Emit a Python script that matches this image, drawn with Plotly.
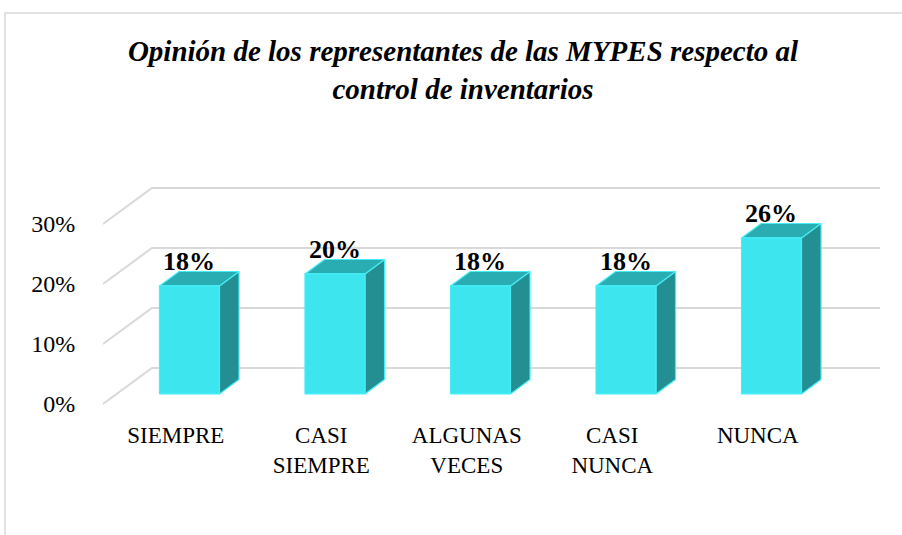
import plotly.graph_objects as go

# ---- data ----
categories = ["SIEMPRE", "CASI<br>SIEMPRE", "ALGUNAS<br>VECES", "CASI<br>NUNCA", "NUNCA"]
values = [18, 20, 18, 18, 26]
value_labels = ["18%", "20%", "18%", "18%", "26%"]
y_ticks = [0, 10, 20, 30]
y_tick_labels = ["0%", "10%", "20%", "30%"]
title_lines = ["Opinión de los representantes de las MYPES respecto al", "control de inventarios"]

# ---- geometry / style (oblique pseudo-3D projection) ----
XR = [-0.5, 4.84]
YR = [-1, 44]
DX, DY = 0.3365, 6.0      # full depth offset in axis units
D0, DB = 0.28, 0.40       # bar front depth, bar depth
BW = 0.412                # bar width
FONT = "Liberation Serif"
GRID = "#d9d9d9"
FRONT, TOP, SIDE, EDGE = "#3de5ee", "#2aacb3", "#238f93", "#45eef7"

def proj(x, v, d):
    return x + d * DX, v + d * DY

fig = go.Figure()

# gridlines (floor diagonal + back wall)
gx, gy = [], []
for t in y_ticks:
    p0 = proj(XR[0], t, 0)
    p1 = proj(XR[0], t, 1)
    gx += [p0[0], p1[0], XR[1], None]
    gy += [p0[1], p1[1], p1[1], None]
fig.add_trace(go.Scatter(x=gx, y=gy, mode="lines", line=dict(color=GRID, width=2),
                         hoverinfo="skip", showlegend=False))

# bars
faces = {"side": ([], []), "top": ([], []), "front": ([], [])}
for i, v in enumerate(values):
    xl, xr = i - BW / 2, i + BW / 2
    polys = {
        "front": [proj(xl, 0, D0), proj(xr, 0, D0), proj(xr, v, D0), proj(xl, v, D0)],
        "top": [proj(xl, v, D0), proj(xr, v, D0), proj(xr, v, D0 + DB), proj(xl, v, D0 + DB)],
        "side": [proj(xr, 0, D0), proj(xr, 0, D0 + DB), proj(xr, v, D0 + DB), proj(xr, v, D0)],
    }
    for k, pts in polys.items():
        xs, ys = faces[k]
        xs += [p[0] for p in pts] + [pts[0][0], None]
        ys += [p[1] for p in pts] + [pts[0][1], None]

for k, col in [("side", SIDE), ("top", TOP), ("front", FRONT)]:
    xs, ys = faces[k]
    fig.add_trace(go.Scatter(x=xs, y=ys, mode="lines", fill="toself", fillcolor=col,
                             line=dict(color=EDGE, width=1.2), hoverinfo="skip",
                             showlegend=False))

# data labels
for i, (v, lab) in enumerate(zip(values, value_labels)):
    lx, ly = proj(i, v, D0 + DB)
    fx, _ = proj(i, v, D0)
    fig.add_annotation(x=fx, y=ly, xref="x", yref="y", text=lab, showarrow=False,
                       yanchor="bottom", yshift=-6,
                       font=dict(family=FONT, size=26, color="black", weight="bold"))

# chart border
fig.add_shape(type="rect", xref="paper", yref="paper", x0=(5 - 103) / 777, x1=1.2,
              y0=-0.8, y1=(410 - 13) / 270, line=dict(color=GRID, width=1.5),
              layer="below")

title_html = "<br>".join("<b><i>%s</i></b>" % s for s in title_lines)

fig.update_layout(
    width=902, height=535,
    margin=dict(l=103, r=22, t=140, b=125),
    paper_bgcolor="white", plot_bgcolor="white",
    title=dict(text=title_html,
               x=463 / 902, xref="container", xanchor="center",
               y=1 - 61 / 535, yref="container", yanchor="middle",
               font=dict(family=FONT, size=29, color="black")),
    xaxis=dict(range=XR, tickvals=list(range(len(categories))), ticktext=categories,
               showgrid=False, zeroline=False, showline=False,
               ticks="outside", ticklen=4, tickcolor="rgba(0,0,0,0)",
               tickfont=dict(family=FONT, size=23, color="black")),
    yaxis=dict(range=YR, tickvals=y_ticks, ticktext=y_tick_labels,
               showgrid=False, zeroline=False, showline=False,
               ticks="outside", ticklen=22, tickcolor="rgba(0,0,0,0)",
               tickfont=dict(family=FONT, size=24, color="black")),
)

fig.write_html("out.html", config={"displayModeBar": False},
               post_script="document.body.style.margin='0';")
